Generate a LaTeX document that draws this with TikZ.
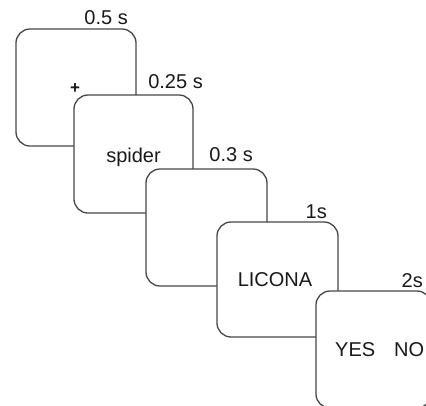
\documentclass[tikz,border=0pt]{standalone}
\usepackage{fontspec}
\setmainfont{Liberation Sans}
\begin{document}
\begin{tikzpicture}[x=1pt,y=-1pt,
  screen/.style={draw=black!72,line width=1.3pt,fill=white,rounded corners=14pt,inner sep=0pt},
  txt/.style={inner sep=0pt,font=\fontsize{20}{22}\selectfont,text=black!90},
  lbl/.style={txt,anchor=base east}]
\clip (0,0) rectangle (426,405);
\fill[white] (0,0) rectangle (426,405);
% screens
\node[screen,minimum width=120pt,minimum height=117pt] (b1) at (76,87.5) {};
\node[txt,anchor=center,font=\fontsize{17}{19}\bfseries] (plus) at (75,89) {+};
\node[screen,minimum width=119pt,minimum height=118pt] (b2) at (133.5,154) {};
\node[screen,minimum width=121pt,minimum height=117pt] (b3) at (206.5,227.5) {};
\node[screen,minimum width=121pt,minimum height=115pt] (b4) at (277.5,279.5) {};
\node[screen,minimum width=115pt,minimum height=117pt] (b5) at (373.5,349.5) {};
% contents
\node[txt,anchor=base] (spider) at (133.5,162) {spider};
\node[txt,anchor=base] (licona) at (275,286) {LICONA};
\node[txt,anchor=base west] (yes) at (335,356) {YES};
\node[txt,anchor=base west] (no) at (394,356) {NO};
% durations
\node[lbl] (t1) at (128,24) {0.5 s};
\node[lbl] (t2) at (203,88) {0.25 s};
\node[lbl] (t3) at (253,161) {0.3 s};
\node[lbl] (t4) at (327,218) {1s};
\node[lbl] (t5) at (423,287) {2s};
\end{tikzpicture}
\end{document}
